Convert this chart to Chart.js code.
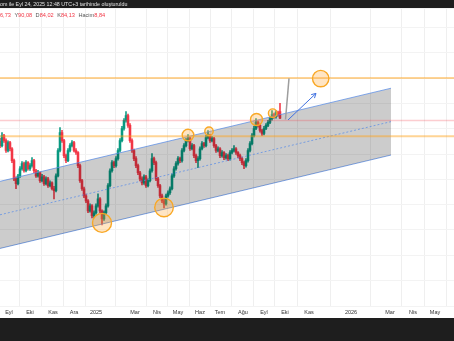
<!DOCTYPE html>
<html>
<head>
<meta charset="utf-8">
<script src="https://cdn.jsdelivr.net/npm/chart.js@4.4.0/dist/chart.umd.min.js"></script>
<style>
  html,body{margin:0;padding:0;background:#fff}
</style>
</head>
<body>
<canvas id="c" width="454" height="341"></canvas>
<script>
// daily-ish candles (2 sessions per bar)
const opens  = [75.0,73.3,77.3,75.3,71.4,74.5,72.1,67.4,60.2,58.3,61.4,64.2,66.2,63.4,66.6,64.2,65.4,67.4,63.4,61.4,
  62.6,59.5,61.0,58.3,60.2,57.5,58.6,56.3,55.5,61.4,71.4,78.5,75.3,69.4,67.4,71.4,73.3,74.5,71.4,70.6,
  65.4,59.5,56.3,53.5,51.5,47.5,49.5,45.6,46.8,49.5,52.3,47.5,44.4,46.8,49.5,57.5,63.4,66.6,65.4,68.2,
  71.4,75.3,80.1,83.3,85.2,81.3,75.3,71.4,68.2,65.4,62.6,60.2,58.6,61.0,57.5,59.5,63.4,68.2,66.6,60.2,
  57.5,53.5,51.5,50.3,53.5,54.7,56.3,61.4,64.2,66.2,68.2,67.4,71.4,73.3,75.3,76.1,72.1,73.3,69.4,67.4,
  68.2,72.1,74.1,73.3,76.5,77.3,75.3,76.1,73.3,71.4,72.1,69.4,70.6,68.6,69.4,68.2,70.6,71.4,72.1,70.6,
  69.4,68.2,66.6,65.4,67.4,71.4,74.1,77.3,80.1,82.5,81.3,79.3,78.1,80.1,81.3,82.5,84.0,85.6,84.8,86.4,86.73]
const highs  = [76.2,78.5,77.8,76.0,75.2,75.0,72.6,68.0,61.0,62.0,65.0,67.0,66.8,67.4,67.0,66.2,68.6,67.9,64.0,63.6,
  63.0,62.0,61.6,61.0,60.8,59.4,59.0,57.2,62.2,72.2,80.5,79.4,75.8,70.0,72.2,74.1,75.3,75.0,72.2,71.0,
  66.0,60.0,56.9,54.2,52.0,50.3,50.0,47.6,50.3,54.3,52.8,48.0,47.6,50.3,58.3,64.2,67.4,67.2,69.0,72.2,
  76.1,80.9,84.0,86.8,85.8,82.0,76.0,72.0,69.0,66.0,63.2,61.0,61.8,61.6,60.2,64.2,70.2,68.8,67.2,60.8,
  58.0,54.2,52.2,54.2,55.5,57.0,62.2,65.0,67.0,69.0,68.8,72.2,74.1,76.1,77.7,76.6,74.1,73.8,70.0,69.0,
  72.8,74.9,74.6,77.3,79.3,77.8,76.9,76.6,73.8,72.8,72.6,71.4,71.0,70.2,70.0,71.4,72.2,73.3,72.6,71.0,
  70.0,68.8,67.2,68.2,72.2,74.9,78.1,80.9,84.0,83.0,81.8,79.8,80.9,82.0,83.3,84.8,87.2,86.2,87.2,87.0,90.08]
const lows   = [72.5,72.8,74.6,70.6,70.8,71.2,66.6,59.5,56.3,57.8,60.8,63.6,62.8,62.9,63.6,63.5,64.8,62.6,60.8,60.9,
  58.8,59.0,57.6,57.8,56.8,57.0,55.8,52.3,55.0,61.0,70.8,74.6,68.6,66.6,67.0,70.8,72.8,70.8,69.8,64.6,
  58.8,55.6,52.8,50.8,46.8,47.0,44.8,45.0,46.2,49.0,46.8,42.0,43.8,46.2,49.0,57.0,62.8,64.6,64.8,67.6,
  70.8,74.8,79.4,82.6,80.5,74.6,70.6,67.4,64.6,61.8,59.4,57.8,58.0,56.8,57.0,59.0,62.8,65.8,59.5,56.8,
  52.8,50.8,48.7,49.8,53.0,54.0,55.8,60.8,63.6,65.6,66.6,66.8,70.8,72.8,74.8,71.4,71.6,68.6,66.6,64.6,
  67.6,71.6,72.6,72.8,76.0,74.6,74.8,72.6,70.6,70.8,68.6,68.8,67.8,68.0,67.4,67.6,70.0,70.8,69.8,68.6,
  67.4,65.8,64.2,64.8,66.8,70.8,73.6,76.8,79.6,80.6,78.6,77.4,77.6,79.6,80.8,82.0,83.4,84.2,84.2,85.0,84.02]
const closes = [73.3,77.3,75.3,71.4,74.5,72.1,67.4,60.2,58.3,61.4,64.2,66.2,63.4,66.6,64.2,65.4,67.4,63.4,61.4,62.6,
  59.5,61.0,58.3,60.2,57.5,58.6,56.3,55.5,61.4,71.4,78.5,75.3,69.4,67.4,71.4,73.3,74.5,71.4,70.6,65.4,
  59.5,56.3,53.5,51.5,47.5,49.5,45.6,46.8,49.5,52.3,47.5,44.4,46.8,49.5,57.5,63.4,66.6,65.4,68.2,71.4,
  75.3,80.1,83.3,85.2,81.3,75.3,71.4,68.2,65.4,62.6,60.2,58.6,61.0,57.5,59.5,63.4,68.2,66.6,60.2,57.5,
  53.5,51.5,50.3,53.5,54.7,56.3,61.4,64.2,66.2,68.2,67.4,71.4,73.3,75.3,76.1,72.1,73.3,69.4,67.4,68.2,
  72.1,74.1,73.3,76.5,77.3,75.3,76.1,73.3,71.4,72.1,69.4,70.6,68.6,69.4,68.2,70.6,71.4,72.1,70.6,69.4,
  68.2,66.6,65.4,67.4,71.4,74.1,77.3,80.1,82.5,81.3,79.3,78.1,80.1,81.3,82.5,84.0,85.6,84.8,86.4,85.6,84.13]
const lastVolume = '8,84'

// time axis (bar index) labels
const monthLabels = ['Eyl','Eki','Kas','Ara','2025','Mar','Nis','May','Haz','Tem','Ağu','Eyl','Eki','Kas','2026','Mar','Nis','May']
const monthBars   = [4.5,15,26.5,37,48,67.5,78.5,89,100,110,121.5,132,142.5,154.5,175.5,195,206.5,217.5]

// drawings
const levelTop = 100, levelPink = 83.25, levelLow = 77
const channelX = [0, 195.5]
const channelUpper = [59.2, 96.0]
const channelMid   = [46.0, 82.8]
const channelLower = [32.7, 69.6]
const circleX = [51, 82, 94, 104.5, 128.25, 136.35, 160.35]
const circleY = [42.8, 48.9, 77.5, 79.0, 83.65, 86.15, 99.8]
const arrowX = [144, 158], arrowY = [83.45, 93.97]
const stickX = [144.5, 142.75], stickY = [99.9, 83.65]

const UP = '#089981', DOWN = '#f23645'
const idx = closes.map((_, i) => i)
const colors = idx.map(i => closes[i] >= opens[i] ? UP : DOWN)
const pts = (xs, ys) => xs.map((x, i) => ({x, y: ys[i]}))
const hline = y => [{x: -5, y}, {x: 240, y}]
const fmt = v => v.toFixed(2).replace('.', ',')

const frame = {
  id: 'frame',
  afterDraw(chart){
    const ctx = chart.ctx
    ctx.save()
    ctx.fillStyle = '#1e1e1e'
    ctx.fillRect(0, 0, 454, 8)
    ctx.fillRect(0, 318, 454, 23)
    ctx.font = '5.3px "Liberation Sans", Arial, sans-serif'
    ctx.textBaseline = 'middle'
    ctx.fillStyle = '#e0e0e0'
    const pre = 'TradingView.c'
    ctx.fillText(pre + 'om ile Eyl 24, 2025 12:48 UTC+3 tarihinde oluşturuldu', -ctx.measureText(pre).width, 4.5)
    // OHLC legend
    const n = closes.length - 1
    const parts = [['A', fmt(opens[n])], ['Y', fmt(highs[n])], ['D', fmt(lows[n])], ['K', fmt(closes[n])], ['Hacim', lastVolume]]
    ctx.font = '5.6px "Liberation Sans", Arial, sans-serif'
    let x = -ctx.measureText('A8').width
    parts.forEach(([k, v]) => {
      ctx.fillStyle = '#555'
      ctx.fillText(k, x, 15.7); x += ctx.measureText(k).width
      ctx.fillStyle = DOWN
      ctx.fillText(v, x, 15.7); x += ctx.measureText(v).width + 3.5
    })
    ctx.restore()
  },
  afterDatasetsDraw(chart){
    // arrow head on the blue arrow
    const meta = chart.getDatasetMeta(chart.data.datasets.findIndex(d => d.label === 'arrow'))
    const [a, b] = meta.data
    const ang = Math.atan2(b.y - a.y, b.x - a.x)
    const ctx = chart.ctx
    ctx.save()
    ctx.strokeStyle = '#3f70e0'; ctx.lineWidth = 1
    ctx.beginPath()
    ctx.moveTo(b.x - 5 * Math.cos(ang - 0.5), b.y - 5 * Math.sin(ang - 0.5))
    ctx.lineTo(b.x, b.y)
    ctx.lineTo(b.x - 5 * Math.cos(ang + 0.5), b.y - 5 * Math.sin(ang + 0.5))
    ctx.stroke()
    ctx.restore()
  }
}

new Chart(document.getElementById('c'), {
  type: 'bar',
  data: {
    datasets: [
      {label: 'wick', data: idx.map(i => ({x: i, y: [lows[i], highs[i]]})), backgroundColor: colors,
        barThickness: 0.9, grouped: false, order: 11},
      {label: 'body', data: idx.map(i => ({x: i, y: [opens[i], closes[i]]})), backgroundColor: colors,
        barThickness: 1.9, minBarLength: 1, grouped: false, order: 10},
      {type: 'line', label: 'lower', data: pts(channelX, channelLower), borderColor: 'rgba(90,140,230,0.75)',
        borderWidth: 1, pointRadius: 0, fill: false, order: 6},
      {type: 'line', label: 'upper', data: pts(channelX, channelUpper), borderColor: 'rgba(90,140,230,0.75)',
        borderWidth: 1, pointRadius: 0, fill: {target: 2}, backgroundColor: 'rgba(0,0,0,0.2)', order: 5},
      {type: 'line', label: 'mid', data: pts(channelX, channelMid), borderColor: 'rgba(90,140,230,0.75)',
        borderWidth: 1, borderDash: [2, 2], pointRadius: 0, fill: false, order: 4},
      {type: 'line', label: 'top', data: hline(levelTop), borderColor: 'rgba(255,160,20,0.45)', borderWidth: 2, pointRadius: 0, order: 3},
      {type: 'line', label: 'pink', data: hline(levelPink), borderColor: 'rgba(242,54,69,0.25)', borderWidth: 1.5, pointRadius: 0, order: 3},
      {type: 'line', label: 'low', data: hline(levelLow), borderColor: 'rgba(255,160,20,0.45)', borderWidth: 2, pointRadius: 0, order: 3},
      {type: 'line', label: 'stick', data: pts(stickX, stickY), borderColor: '#9e9e9e', borderWidth: 1.5, pointRadius: 0, order: 2},
      {type: 'line', label: 'arrow', data: pts(arrowX, arrowY), borderColor: '#3f70e0', borderWidth: 1, pointRadius: 0, order: 2},
      {type: 'scatter', label: 'circles', data: pts(circleX, circleY), pointRadius: [9.5, 9.3, 5.8, 4.2, 6, 4.3, 8.2],
        backgroundColor: 'rgba(255,170,60,0.3)', borderColor: '#f9a825', borderWidth: 1.4, order: 1, clip: false}
    ]
  },
  options: {
    responsive: false,
    animation: false,
    devicePixelRatio: 1,
    layout: {autoPadding: false, padding: {top: 8, bottom: 22, left: 0, right: 0}},
    plugins: {legend: {display: false}, tooltip: {enabled: false}},
    scales: {
      x: {
        type: 'linear', min: 0, max: 227, offset: false,
        afterBuildTicks: axis => { axis.ticks = monthBars.map(v => ({value: v})) },
        afterFit: s => { s.paddingLeft = 0; s.paddingRight = 0 },
        ticks: {autoSkip: false, maxRotation: 0, padding: 3, color: '#333',
          font: {size: 5.5, family: '"Liberation Sans", Arial, sans-serif'},
          callback: (v, i) => monthLabels[i]},
        grid: {color: '#efefef', drawTicks: false},
        border: {display: false}
      },
      y: {
        min: 9.8, max: 127.7,
        afterFit: s => { s.width = 0 },
        ticks: {display: false, stepSize: 10},
        grid: {color: '#f3f3f3', drawTicks: false},
        border: {display: false}
      }
    }
  },
  plugins: [frame]
})
</script>
</body>
</html>
